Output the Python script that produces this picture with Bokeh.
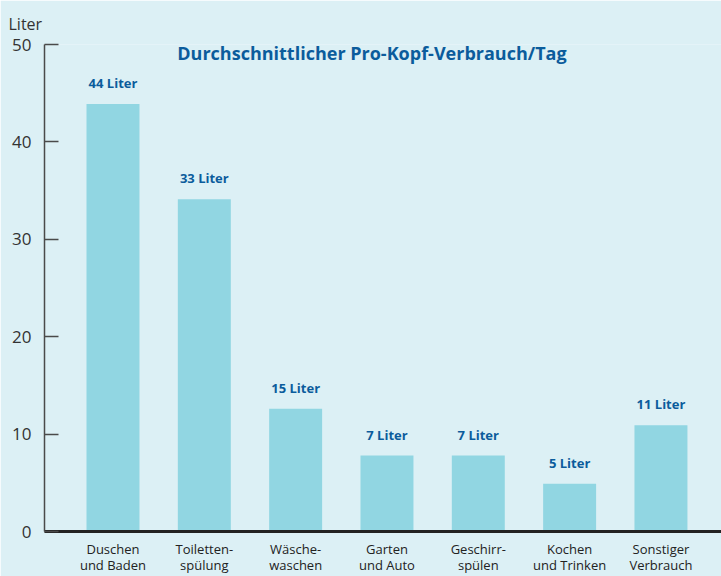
from bokeh.plotting import figure
from bokeh.models import ColumnDataSource, Range1d, FixedTicker, Label, LabelSet
from bokeh.core.properties import value
from bokeh.embed import file_html
from bokeh.resources import INLINE

categories = ["Duschen\nund Baden", "Toiletten-\nspülung", "Wäsche-\nwaschen",
              "Garten\nund Auto", "Geschirr-\nspülen", "Kochen\nund Trinken",
              "Sonstiger\nVerbrauch"]
values = [43.9, 34.1, 12.6, 7.8, 7.8, 4.9, 10.9]
value_labels = ["44 Liter", "33 Liter", "15 Liter", "7 Liter", "7 Liter", "5 Liter", "11 Liter"]
y_ticks = [0, 10, 20, 30, 40, 50]
title_text = "Durchschnittlicher Pro-Kopf-Verbrauch/Tag"
y_title = "Liter"

BG = "#dcf0f5"
BAR = "#91d6e2"
BLUE = "#0b5c9c"
DARK = "#333333"
FONT = "Open Sans"

idx = list(range(len(categories)))
src = ColumnDataSource(dict(x=idx, y=values, cat=categories, lab=value_labels))

p = figure(width=721, height=576, output_backend="svg", toolbar_location=None,
           x_range=Range1d(-0.75, 6.663), y_range=Range1d(0, 50),
           min_border_left=44, min_border_right=0, min_border_top=42, min_border_bottom=45)
p.background_fill_color = BG
p.border_fill_color = BG
p.outline_line_color = None
p.grid.visible = False

p.title.text = y_title
p.title.align = "left"
p.title.offset = -36
p.title.standoff = 20
p.title.text_font = FONT
p.title.text_font_size = "16px"
p.title.text_font_style = "normal"
p.title.text_color = DARK

p.vbar(x="x", top="y", width=0.58, source=src, color=BAR, line_color=None)

ax = p.yaxis[0]
ax.ticker = FixedTicker(ticks=y_ticks)
ax.minor_tick_line_color = None
ax.major_tick_in = 14
ax.major_tick_out = 0
ax.major_tick_line_color = "#4a4a4a"
ax.major_tick_line_width = 1.5
ax.axis_line_color = "#4a4a4a"
ax.axis_line_width = 1.5
ax.major_label_text_font = FONT
ax.major_label_text_font_size = "17px"
ax.major_label_text_color = DARK
ax.major_label_standoff = 13

bx = p.xaxis[0]
bx.ticker = FixedTicker(ticks=idx)
bx.major_label_overrides = {i: c for i, c in zip(idx, categories)}
bx.major_tick_line_color = None
bx.major_tick_in = 0
bx.major_tick_out = 0
bx.minor_tick_line_color = None
bx.axis_line_color = "#222222"
bx.axis_line_width = 3
bx.major_label_standoff = 8
bx.major_label_text_font = FONT
bx.major_label_text_font_size = "13px"
bx.major_label_text_color = "#222222"
bx.major_label_text_line_height = 0.9

p.add_layout(LabelSet(x="x", y="y", text="lab", source=src, y_offset=21,
                      text_align="center", text_baseline="middle",
                      text_font=value(FONT), text_font_size=value("13px"),
                      text_font_style=value("bold"), text_color=value(BLUE)))

p.add_layout(Label(x=3, y=50, x_offset=-15, y_offset=-8, text=title_text,
                   text_align="center", text_baseline="middle",
                   text_font=FONT, text_font_size="18px", text_font_style="bold",
                   text_color=BLUE))

open("out.html", "w").write(file_html(p, INLINE))
